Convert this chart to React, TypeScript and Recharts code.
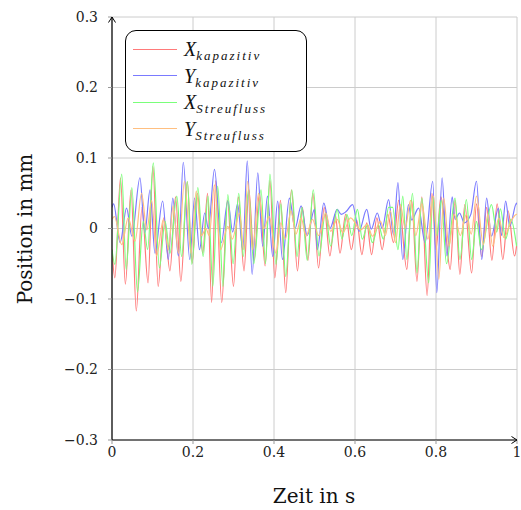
import { LineChart, Line, XAxis, YAxis, CartesianGrid } from "recharts";

// [time in s, position in mm] at the turning points
const xKapazitiv: [number, number][] = [
  [0.0, -0.03], [0.007, -0.07], [0.021, 0.072], [0.033, -0.079], [0.047, 0.055], [0.06, -0.117],
  [0.074, 0.03], [0.089, -0.077], [0.101, 0.088], [0.114, -0.082], [0.128, 0.015], [0.143, -0.06],
  [0.157, 0.045], [0.17, -0.075], [0.186, 0.066], [0.198, -0.049], [0.211, 0.05], [0.224, -0.035],
  [0.236, 0.05], [0.246, -0.105], [0.256, 0.068], [0.271, -0.105], [0.285, 0.04], [0.3, -0.082],
  [0.312, 0.045], [0.326, -0.06], [0.338, 0.055], [0.351, -0.045], [0.364, 0.05], [0.378, -0.053],
  [0.39, 0.068], [0.402, -0.07], [0.416, 0.04], [0.429, -0.091], [0.443, 0.055], [0.458, -0.06],
  [0.47, 0.03], [0.484, -0.045], [0.496, 0.05], [0.51, -0.056], [0.524, 0.03], [0.538, -0.039],
  [0.551, 0.02], [0.563, -0.035], [0.577, 0.02], [0.591, -0.03], [0.604, 0.012], [0.617, -0.037],
  [0.629, 0.008], [0.641, -0.037], [0.654, 0.015], [0.667, -0.03], [0.681, 0.02], [0.695, -0.02],
  [0.708, 0.04], [0.728, -0.058], [0.74, 0.04], [0.753, -0.075], [0.765, 0.045], [0.778, -0.095],
  [0.79, 0.05], [0.8, -0.03], [0.812, 0.045], [0.823, 0.0], [0.835, -0.058], [0.847, 0.04],
  [0.859, -0.065], [0.871, 0.034], [0.888, -0.063], [0.9, 0.035], [0.913, -0.04], [0.925, 0.03],
  [0.938, -0.045], [0.951, 0.035], [0.965, -0.044], [0.978, 0.025], [0.994, -0.039], [1.0, -0.02],
];

const yKapazitiv: [number, number][] = [
  [0.0, 0.03], [0.004, 0.035], [0.02, -0.02], [0.036, 0.029], [0.049, -0.011], [0.069, 0.072],
  [0.081, -0.006], [0.094, 0.055], [0.106, -0.035], [0.125, 0.039], [0.139, -0.044], [0.15, 0.043],
  [0.164, -0.039], [0.176, 0.094], [0.192, -0.044], [0.204, 0.043], [0.216, -0.03], [0.229, 0.022],
  [0.238, 0.0], [0.253, 0.084], [0.27, -0.02], [0.286, 0.039], [0.298, -0.005], [0.31, 0.035],
  [0.323, -0.03], [0.334, 0.096], [0.346, -0.065], [0.36, 0.079], [0.372, -0.025], [0.384, 0.046],
  [0.397, -0.04], [0.409, 0.039], [0.421, -0.044], [0.438, 0.043], [0.452, 0.0], [0.467, 0.032],
  [0.482, -0.01], [0.5, 0.027], [0.507, -0.03], [0.523, 0.036], [0.538, 0.0], [0.556, 0.027],
  [0.566, 0.02], [0.578, 0.024], [0.594, 0.034], [0.61, -0.004], [0.629, 0.027], [0.64, -0.001],
  [0.655, 0.022], [0.667, 0.0], [0.683, 0.041], [0.695, -0.009], [0.706, 0.065], [0.718, -0.044],
  [0.732, 0.034], [0.74, 0.012], [0.757, 0.029], [0.773, -0.02], [0.792, 0.067], [0.802, -0.091],
  [0.815, 0.072], [0.827, -0.039], [0.84, 0.045], [0.847, 0.013], [0.858, 0.022], [0.87, 0.008],
  [0.886, 0.02], [0.9, 0.067], [0.913, -0.044], [0.925, 0.043], [0.937, -0.011], [0.954, 0.029],
  [0.962, -0.01], [0.972, 0.039], [0.982, 0.003], [0.999, 0.036], [1.0, 0.034],
];

const xStreufluss: [number, number][] = [
  [0.0, -0.03], [0.007, -0.051], [0.024, 0.077], [0.035, -0.058], [0.049, 0.058], [0.063, -0.09],
  [0.077, 0.01], [0.088, -0.03], [0.102, 0.093], [0.117, -0.056], [0.131, 0.01], [0.143, -0.035],
  [0.16, 0.046], [0.172, -0.04], [0.186, 0.067], [0.197, -0.051], [0.212, 0.058], [0.225, -0.04],
  [0.237, 0.046], [0.249, -0.082], [0.261, 0.06], [0.274, -0.082], [0.286, 0.048], [0.299, -0.05],
  [0.313, 0.05], [0.324, -0.04], [0.337, 0.055], [0.35, -0.05], [0.368, 0.055], [0.379, -0.05],
  [0.39, 0.077], [0.405, -0.051], [0.417, 0.035], [0.429, -0.068], [0.444, 0.055], [0.457, -0.04],
  [0.469, 0.03], [0.482, -0.045], [0.497, 0.055], [0.511, -0.039], [0.527, 0.022], [0.54, -0.025],
  [0.556, 0.027], [0.568, -0.015], [0.58, 0.02], [0.592, -0.01], [0.606, 0.027], [0.618, -0.015],
  [0.631, 0.005], [0.643, -0.02], [0.658, 0.005], [0.67, -0.015], [0.683, 0.03], [0.693, 0.03],
  [0.706, -0.03], [0.718, 0.046], [0.728, -0.044], [0.742, 0.05], [0.753, -0.063], [0.765, 0.043],
  [0.782, -0.077], [0.792, 0.045], [0.802, -0.01], [0.813, 0.04], [0.826, -0.05], [0.847, 0.043],
  [0.859, -0.044], [0.875, 0.041], [0.888, -0.044], [0.9, 0.01], [0.912, -0.03], [0.937, 0.034],
  [0.95, -0.005], [0.959, 0.028], [0.972, -0.015], [0.985, 0.013], [0.999, -0.025],
];

const yStreufluss: [number, number][] = [
  [0.0, 0.013], [0.006, 0.017], [0.024, -0.023], [0.04, 0.015], [0.057, -0.018], [0.073, 0.05],
  [0.086, -0.002], [0.098, 0.04], [0.11, -0.039], [0.127, 0.013], [0.139, -0.03], [0.151, 0.032],
  [0.164, -0.035], [0.179, 0.067], [0.195, -0.035], [0.208, 0.053], [0.221, -0.01], [0.232, 0.0],
  [0.24, -0.01], [0.253, 0.062], [0.268, -0.03], [0.286, 0.003], [0.297, -0.015], [0.315, 0.022],
  [0.325, -0.03], [0.335, 0.067], [0.347, -0.03], [0.362, 0.05], [0.375, 0.0], [0.388, 0.017],
  [0.405, -0.035], [0.417, 0.008], [0.428, -0.015], [0.442, 0.025], [0.454, -0.008], [0.467, 0.015],
  [0.479, -0.011], [0.495, 0.013], [0.51, -0.01], [0.528, 0.022], [0.54, -0.004], [0.556, 0.013],
  [0.57, -0.006], [0.589, 0.015], [0.614, -0.002], [0.63, 0.006], [0.643, -0.011], [0.663, 0.01],
  [0.675, -0.01], [0.687, 0.025], [0.7, -0.02], [0.712, 0.034], [0.724, 0.0], [0.737, 0.04],
  [0.75, -0.01], [0.765, 0.035], [0.78, -0.015], [0.794, 0.046], [0.807, -0.072], [0.819, 0.043],
  [0.832, -0.025], [0.845, 0.02], [0.86, -0.01], [0.875, 0.02], [0.887, -0.008], [0.9, 0.046],
  [0.917, -0.023], [0.928, 0.02], [0.94, -0.025], [0.955, 0.015], [0.968, -0.013], [0.985, 0.01],
  [0.999, 0.02], [1.0, 0.02],
];

const xTicks = [0, 0.2, 0.4, 0.6, 0.8, 1];
const yTicks = [-0.3, -0.2, -0.1, 0, 0.1, 0.2, 0.3];

const series = [
  { name: "X", sub: "kapazitiv", color: "#ff7a7a", points: xKapazitiv },
  { name: "Y", sub: "kapazitiv", color: "#7a7aff", points: yKapazitiv },
  { name: "X", sub: "Streufluss", color: "#7aff7a", points: xStreufluss },
  { name: "Y", sub: "Streufluss", color: "#ffbf80", points: yStreufluss },
];

const serif = "'DejaVu Serif', 'Liberation Serif', serif";
const mathFont = "'Liberation Serif', serif";

const fmt = (v: number) => (v === 0 ? "0" : (v < 0 ? "\u2212" : "") + Math.abs(v).toString());

function XTick({ x, y, payload }: any) {
  return (
    <text x={x} y={y + 11} textAnchor="middle" fontFamily={serif} fontSize={14} fill="#222">
      {fmt(payload.value)}
    </text>
  );
}

export default function App() {
  return (
    <div style={{ position: "fixed", left: 0, top: 0, width: 521, height: 510, background: "#fff" }}>
      <LineChart width={521} height={510} margin={{ top: 17, right: 4, bottom: 0, left: 0 }}>
        <CartesianGrid stroke="#cccccc" strokeWidth={1} />
        <XAxis
          dataKey="t"
          type="number"
          domain={[0, 1]}
          ticks={xTicks}
          interval={0}
          height={70}
          tickSize={4}
          tickMargin={2}
          axisLine={{ stroke: "#000", strokeWidth: 1.2 }}
          tickLine={{ stroke: "#999" }}
          tick={<XTick />}
          allowDataOverflow
        />
        <YAxis
          type="number"
          domain={[-0.3, 0.3]}
          ticks={yTicks}
          interval={0}
          tickFormatter={fmt}
          width={112}
          tickSize={4}
          tickMargin={10}
          axisLine={{ stroke: "#000", strokeWidth: 1.2 }}
          tickLine={{ stroke: "#999" }}
          tick={{ fill: "#222", fontFamily: serif, fontSize: 14 }}
          allowDataOverflow
        />
        {series.map((s, i) => (
          <Line
            key={i}
            data={s.points.map(([t, v]) => ({ t, v }))}
            dataKey="v"
            type="monotone"
            stroke={s.color}
            strokeWidth={1.2}
            dot={false}
            activeDot={false}
            isAnimationActive={false}
          />
        ))}
      </LineChart>
      <svg width={521} height={510} style={{ position: "absolute", left: 0, top: 0, pointerEvents: "none" }}>
        <polyline points="108.5,22.5 112,17 115.5,22.5" fill="none" stroke="#000" strokeWidth={1} />
        <polyline points="511.5,436.5 517,440 511.5,443.5" fill="none" stroke="#000" strokeWidth={1} />
        <text x={314} y={503} textAnchor="middle" fontFamily={serif} fontSize={20} fill="#111">
          Zeit in s
        </text>
        <text x={32} y={229} textAnchor="middle" fontFamily={serif} fontSize={20} fill="#111" transform="rotate(-90 32 229)">
          Position in mm
        </text>
      </svg>
      <div
        style={{
          position: "absolute",
          left: 125,
          top: 30,
          width: 180,
          height: 115,
          border: "1px solid #000",
          borderRadius: 11,
          background: "#fff",
          boxSizing: "content-box",
          paddingTop: 5,
        }}
      >
        {series.map((s, i) => (
          <div key={i} style={{ display: "flex", alignItems: "center", height: 26.5, paddingLeft: 7 }}>
            <span style={{ display: "inline-block", width: 44, height: 1, background: s.color }} />
            <span style={{ marginLeft: 7, fontFamily: mathFont, fontStyle: "italic", fontSize: 20, color: "#111", lineHeight: 1 }}>
              {s.name}
              <span style={{ fontSize: 13, letterSpacing: 2, position: "relative", top: 4 }}>{s.sub}</span>
            </span>
          </div>
        ))}
      </div>
    </div>
  );
}
